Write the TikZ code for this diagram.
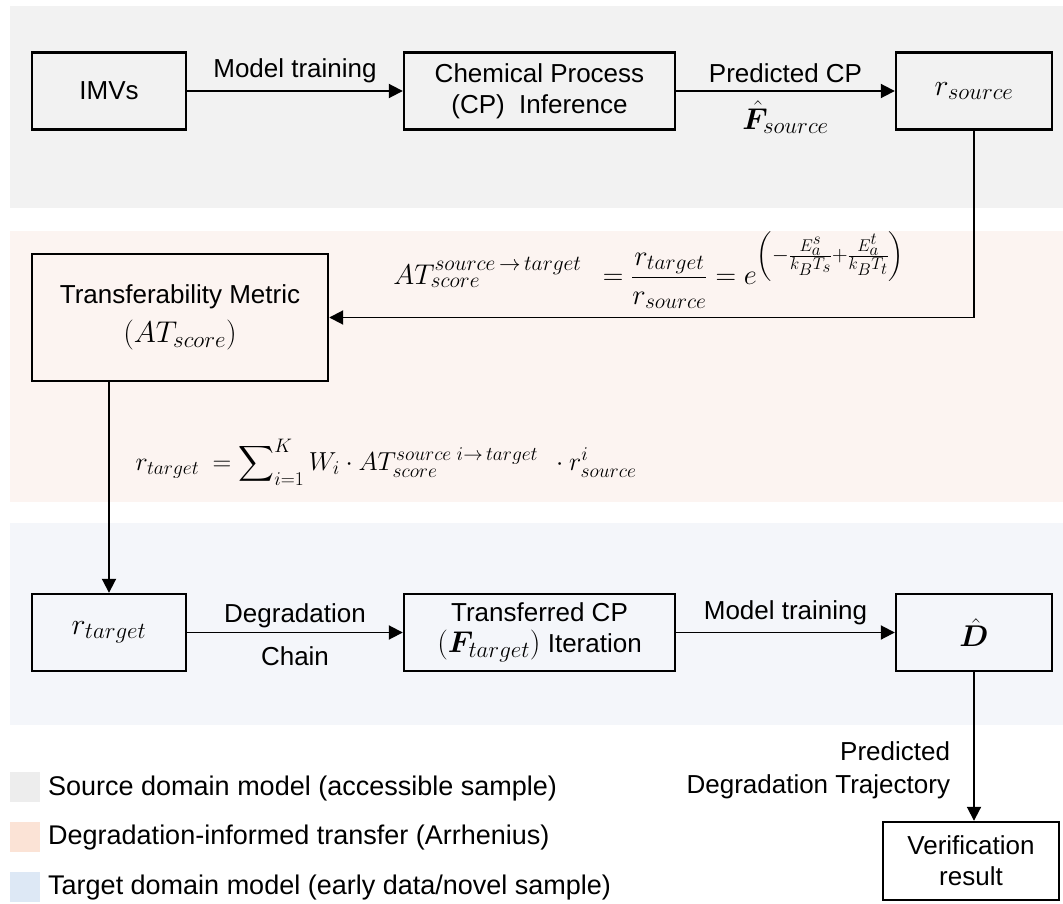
\RequirePackage{fix-cm}
\documentclass[tikz,border=0pt]{standalone}
\usepackage{amsmath,bm}
\usepackage{fontspec}
\setmainfont{Liberation Sans}
\DeclareMathSizes{26}{30}{23}{18}
\DeclareMathSizes{24}{28.5}{21.5}{17}
\DeclareMathSizes{22}{26}{19.5}{15}
\usetikzlibrary{arrows.meta}

\definecolor{srcband}{HTML}{F2F2F2}
\definecolor{trfband}{HTML}{FCF4F1}
\definecolor{tgtband}{HTML}{F4F6FA}
\definecolor{srckey}{HTML}{EDEDED}
\definecolor{trfkey}{HTML}{FBE3D6}
\definecolor{tgtkey}{HTML}{DDE8F5}

\tikzset{
  box/.style={draw, line width=2.4pt, align=center, minimum width=154pt, minimum height=77pt,
    inner sep=2pt, font=\fontsize{26}{31}\selectfont},
  arr/.style={line width=1.9pt, -{Triangle[length=14pt,width=14pt]}},
  lbl/.style={font=\fontsize{26}{33}\selectfont, inner sep=7pt},
  eq/.style={font=\fontsize{24}{29}\selectfont, inner sep=0pt},
  key/.style={minimum width=30pt, minimum height=30pt, inner sep=0pt},
  keytext/.style={anchor=west, font=\fontsize{27}{31}\selectfont, inner sep=0pt}
}

\begin{document}
\begin{tikzpicture}[x=1pt, y=-1pt]
\useasboundingbox (0,0) rectangle (1063,904);

% domain bands
\fill[srcband] (10,6) rectangle (1063,208);
\fill[trfband] (10,231) rectangle (1063,502);
\fill[tgtband] (10,523) rectangle (1063,725);

% source domain
\node[box] (imv) at (109,91) {IMVs};
\node[box, minimum width=271pt] (cpi) at (539.5,91) {Chemical Process\\(CP)\ \ Inference};
\node[box, minimum width=156pt] (rsrc) at (974,91) {$r_{source}$};

\draw[arr] (imv) -- node[lbl, above] {Model training} (cpi);
\draw[arr] (cpi) -- node[lbl, above] {Predicted CP} node[lbl, below, inner sep=9pt] {$\hat{\bm{F}}_{source}$} (rsrc);

% transfer
\node[box, minimum width=296pt, minimum height=127pt] (tm) at (180,317.5) {Transferability Metric\\[8pt]$(AT_{score})$};
\node[eq] (atf) at (649,270) {$AT_{score}^{source\,\rightarrow\,target}\ \ = \dfrac{r_{target}}{r_{source}} = e^{\left(-\frac{E_a^s}{k_BT_s}+\frac{E_a^t}{k_BT_t}\right)}$};
\node[eq, font=\fontsize{22}{26}\selectfont] (sumf) at (386,462) {$r_{target}\ = \displaystyle\sum\nolimits_{i=1}^{K} W_i \cdot AT_{score}^{source\;i\rightarrow\,target}\ \ \cdot r_{source}^{i}$};

\draw[arr] (rsrc.south) |- (tm.east);

% target domain
\node[box] (rtgt) at (109,632.5) {$r_{target}$};
\node[box, minimum width=271pt] (tcp) at (539.5,632.5) {Transferred CP\\$(\bm{F}_{target})$ Iteration};
\node[box, minimum width=156pt] (dhat) at (974,632.5) {$\hat{\bm{D}}$};
\node[box, minimum width=176pt, minimum height=78pt] (ver) at (971,861) {Verification\\result};

\draw[arr] (tm.south -| rtgt.north) -- (rtgt.north);
\draw[arr] (rtgt) -- node[lbl, above, inner sep=4pt] {Degradation} node[lbl, below, inner sep=13pt] {Chain} (tcp);
\draw[arr] (tcp) -- node[lbl, above] {Model training} (dhat);
\draw[arr] (dhat.south) -- node[lbl, pos=0.66, left=16pt, align=right] {Predicted\\Degradation Trajectory} (dhat.south |- ver.north);

% legend
\node[key, fill=srckey] (k1) at (25,787) {};
\node[key, fill=trfkey] (k2) at (25,837) {};
\node[key, fill=tgtkey] (k3) at (25,887) {};
\node[keytext] (t1) at (48,789) {Source domain model (accessible sample)};
\node[keytext] (t2) at (48,838) {Degradation-informed transfer (Arrhenius)};
\node[keytext] (t3) at (48,888) {Target domain model (early data/novel sample)};
\end{tikzpicture}
\end{document}
